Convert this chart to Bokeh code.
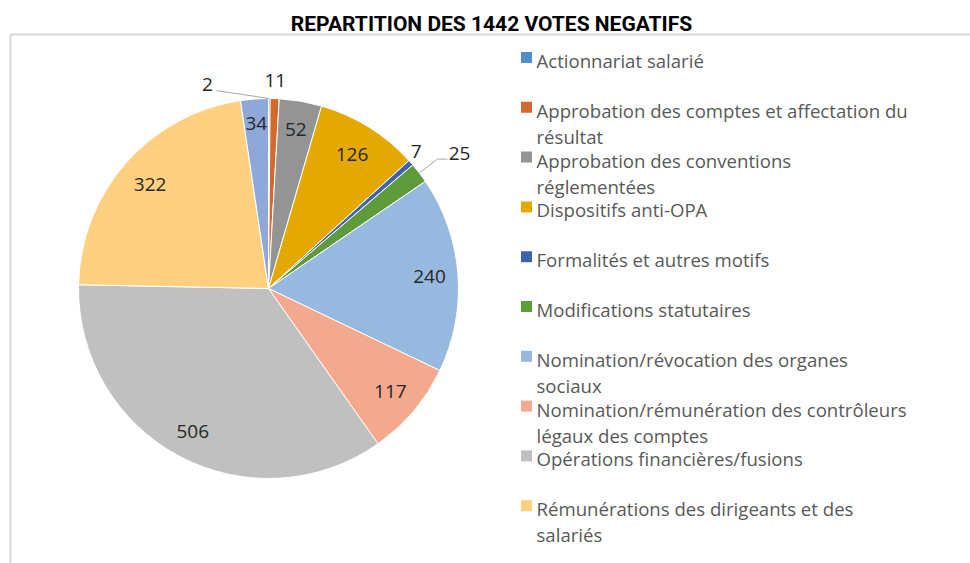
import math
from bokeh.plotting import figure
from bokeh.models import Range1d, ColumnDataSource
from bokeh.core.properties import value
from bokeh.embed import file_html
from bokeh.resources import INLINE

# ---------------- data ----------------
title_text = "REPARTITION DES 1442 VOTES NEGATIFS"
values = [2, 11, 52, 126, 7, 25, 240, 117, 506, 322, 34]
legend_labels = [
    "Actionnariat salarié",
    "Approbation des comptes et affectation du\nrésultat",
    "Approbation des conventions\nréglementées",
    "Dispositifs anti-OPA",
    "Formalités et autres motifs",
    "Modifications statutaires",
    "Nomination/révocation des organes\nsociaux",
    "Nomination/rémunération des contrôleurs\nlégaux des comptes",
    "Opérations financières/fusions",
    "Rémunérations des dirigeants et des\nsalariés",
]
colors = ["#4E8FCB", "#D5692C", "#949494", "#E3A900", "#3D63B0", "#5F9B3B",
          "#97B9E0", "#F2A98E", "#C0C0C0", "#FFD07F", "#8FA8DA"]

# ---------------- layout ----------------
W, H = 970, 563
cx, cy, R = 268, 275, 190
# label radius (fraction of R) and angular nudge (deg) per slice
label_r = [1.12, 1.095, 0.85, 0.83, 1.06, 1.23, 0.85, 0.84, 0.85, 0.83, 0.87]
label_shift = [-16.9, 0, 0, 0, -1.4, 2.3, 0, 0, 0, 0, 0]

p = figure(width=W, height=H, output_backend="svg", toolbar_location=None,
           x_range=Range1d(0, W), y_range=Range1d(0, H),
           min_border=0, outline_line_color=None)
p.axis.visible = False
p.grid.visible = False
p.background_fill_color = "white"
p.border_fill_color = "white"

# chart border (top and left edges visible)
p.line(x=[10, 10, W + 10], y=[-10, 529, 529], line_color="#D9D9D9", line_width=2)

# title
p.text(x=[491], y=[540], text=[title_text], text_font=value("Roboto"),
       text_font_style="bold", text_font_size="21px", text_color="black",
       text_align="center", text_baseline="middle")

# pie
total = sum(values)
cum = [0]
for v in values:
    cum.append(cum[-1] + v)
starts = [math.pi / 2 - 2 * math.pi * cum[i] / total for i in range(len(values))]
ends = [math.pi / 2 - 2 * math.pi * cum[i + 1] / total for i in range(len(values))]
src = ColumnDataSource(dict(start=starts, end=ends, color=colors))
p.wedge(x=cx, y=cy, radius=R, start_angle="start", end_angle="end",
        direction="clock", fill_color="color", line_color="white",
        line_width=1, source=src)

# data labels
lx, ly, mids = [], [], []
for i in range(len(values)):
    mid = 2 * math.pi * (cum[i] + values[i] / 2) / total
    mids.append(mid)
    t = mid + math.radians(label_shift[i])
    d = label_r[i] * R
    lx.append(cx + d * math.sin(t))
    ly.append(cy + d * math.cos(t))
p.text(x=lx, y=ly, text=[str(v) for v in values], text_font=value("Open Sans"),
       text_font_size="19px", text_color="#262626",
       text_align="center", text_baseline="middle")

# leader lines for small outside labels ("2" and "25")
i2 = 0
ex, ey = cx + R * math.sin(mids[i2]), cy + R * math.cos(mids[i2])
p.line(x=[lx[i2] + 9, ex], y=[ly[i2] - 6, ey], line_color="#A6A6A6", line_width=1)
i25 = 5
ex, ey = cx + R * math.sin(mids[i25]), cy + R * math.cos(mids[i25])
bx, by = cx + 1.12 * R * math.sin(mids[i25]), cy + 1.12 * R * math.cos(mids[i25])
p.line(x=[ex, bx, lx[i25] - 12], y=[ey, by, by], line_color="#A6A6A6", line_width=1)

# legend
leg_top = 506   # center of first legend entry (data y)
leg_step = 49.8
mx = 526
ys = [leg_top - i * leg_step for i in range(len(legend_labels))]
p.rect(x=[mx] * len(legend_labels), y=ys, width=11, height=11,
       fill_color=colors[:len(legend_labels)], line_color=None)
p.text(x=[mx + 10] * len(legend_labels), y=[y + 9.5 for y in ys], text=legend_labels,
       text_font=value("Open Sans"), text_font_size="18.6px", text_color="#595959",
       text_align="left", text_baseline="top", text_line_height=1.05)

html = file_html(p, INLINE)
open("out.html", "w").write(html)
